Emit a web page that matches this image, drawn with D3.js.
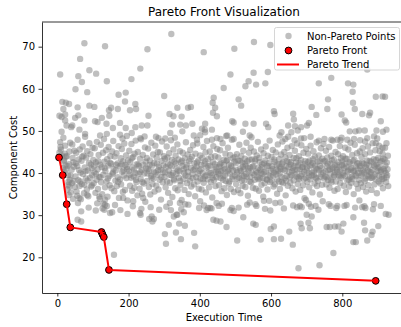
<!DOCTYPE html>
<html>
<head>
<meta charset="utf-8">
<script src="https://cdn.jsdelivr.net/npm/d3@7"></script>
<style>
html,body{margin:0;padding:0;background:#fff;}
svg{display:block;font-family:"DejaVu Sans",sans-serif;}
</style>
</head>
<body>
<svg id="chart" width="401" height="327"></svg>
<script>
// ---- Data ----
const xTicks = [0, 200, 400, 600, 800];
const yTicks = [20, 30, 40, 50, 60, 70];

const paretoFront = [
  [4.8,43.7],[15.2,39.5],[26.4,32.6],[36.5,27.1],[124,26.0],[127,25.4],[130.5,24.8],[145,17.0],[893.7,14.4]
];

const sparseHigh = [
[320,73.0],[76,70.8],[134,70.1],[253,69.4],[411,68.7],[64,67.1],[8,63.4],[90,64.4],[109,63.6],[59,63.0],[233,64.8],[69,61.6],[139,61.8],[208,62.3],[51,59.9],[84,59.2],[172,58.6],[192,59.1],[300,58.3],[190,57.0],[14,56.9],[24,56.7],[33,56.4],[17,55.2],[57,55.6],[90,56.0],[104,55.7],[170,55.2],[151,55.5],[145,54.9],[219,56.4],[204,54.9],[221,55.2],[439,57.9],[436,56.7],[443,55.5],[437,54.3],[448,53.5],[337,55.5],[367,55.5],[375,55.7],[315,54.0],[326,53.5],[349,53.4],[6,53.6],[12,53.3],[22,53.9],[50,53.1],[59,53.7],[125,53.1],[146,53.6],[256,53.6],[76,52.5],[106,52.3],[113,52.1],[22,52.5],[26,51.3],[42,51.3],[39,50.9],[138,51.7],[156,50.7],[176,51.9],[192,50.7],[219,50.9],[237,51.3],[253,51.3],[322,51.5],[345,51.5],[361,51.3],[379,51.7],[62,50.3],[78,49.3],[317,49.5],[351,49.9],[414,50.3],[434,50.3],
[120,48.9],[139,49.3],[176,49.1],[195,48.8],[209,49.5],[233,48.3],[284,48.3],[303,48.2],[392,47.9],[401,49.0],
[497,69.5],[552,71.1],[598,70.4],[486,63.4],[551,63.8],[591,64.0],[537,61.8],[528,60.6],[558,61.0],[584,61.3],[467,60.2],[734,61.3],[769,62.6],[816,61.3],[831,61.0],[870,64.6],
[829,59.3],[509,57.5],[516,56.0],[760,57.5],[758,55.2],[894,58.1],[913,58.2],[920,58.1],[830,56.7],[835,55.2],[608,54.7],[610,54.0],[662,54.1],[664,52.7],[714,55.7],[727,53.8],[798,53.9],[807,52.5],[811,52.0],[856,54.0],[878,54.3],[875,53.7],[908,52.3],[415,51.7],[491,52.3],[495,52.0],[528,51.7],[551,51.7],[586,51.7],[592,50.9],[648,51.3],[667,51.1],[684,50.9],[706,51.9],[701,51.3],[406,50.5],[415,49.7],[629,49.7],[657,49.7],[675,50.1],[821,49.9],[837,49.9],[847,50.1],[863,50.1],[896,50.1],[914,49.8],[924,50.3],[521,49.8],[540,48.9],[477,48.9],[434,47.9],[458,48.1],[495,48.1],
[624,48.9],[640,48.1],[666,47.8],[684,48.2],[693,48.3],[711,48.6],[734,47.7],[750,48.1],[769,47.9],[786,47.9],[795,47.8],[814,47.9],[889,48.7],[894,47.1],[903,46.5],[913,46.0],[924,47.1],[833,48.1],[850,47.8],[864,47.5],[870,48.3]
];

const sparseLow = [
[423,31.7],[453,32.2],[490,31.7],[495,31.0],[540,33.0],[556,32.6],[580,33.4],[598,31.1],[626,33.0],[673,31.9],[681,32.2],[706,32.7],[725,32.2],[767,32.2],[786,32.2],[806,32.2],[856,31.9],[865,31.7],[889,32.6],[908,32.2],[922,30.3],[930,30.1],
[438,28.9],[447,28.7],[458,28.5],[475,27.2],[522,29.5],[550,28.0],[557,27.7],[599,26.7],[608,27.3],[651,26.1],[683,28.0],[686,26.9],[700,30.1],[714,29.7],[705,28.2],[709,26.9],[756,27.2],[765,27.2],[779,27.3],[789,27.3],[798,26.1],[803,28.0],[831,29.5],[861,28.2],[864,26.4],[885,26.1],[882,25.3],[901,27.4],
[505,24.0],[571,24.2],[608,24.3],[628,24.4],[661,23.0],[831,23.6],[838,23.6],[870,24.0],[775,21.0],[677,17.4],[736,18.1],
[159,20.6],[148,30.5],[154,30.7],[197,30.3],[234,30.1],[319,31.2],[327,29.7],[337,30.1],[342,28.0],[355,30.7],[358,27.5],[313,27.7],[302,25.5],[333,25.9],[347,24.3],[384,25.8],[305,23.2],[387,22.6],[419,31.2],
[67,30.9],[108,31.1],[132,31.3],[67,28.5],[57,28.9],[258,29.1],[271,29.1],[267,28.5],[56,34.6],[62,34.1],[84,34.8],[129,32.7],[134,33.7],[118,34.4],[31,37.2],[34,36.8],
[134,32.5],[185,34.1],[213,33.3],[241,34.1],[232,30.5],[265,29.7],[316,32.9],[344,32.9],[368,32.5],[335,30.1],[401,33.3],[429,31.7],[447,32.9]
];

const bandLeft = [
[6,44.9],[8,47.3],[10,45.6],[12,49.8],[13,44.2],[16,41.2],[18,42.8],[20,40.3],[22,46.5],[24,43.9],[25,40.9],[27,44.0],[28,36.1],[30,39.5],[32,34.8],[33,42.1],[35,38.4],[36,47.2],[38,35.4],[40,40.8],[41,37.6],[43,43.6],[44,33.9],[46,38.1],[47,41.5],[48,45.3],[49,36.7],[17,48.4],[21,44.6],[29,41.7],[34,45.1],[42,46.8],[45,42.6],[31,37.9],
[51,39.2],[53,44.8],[54,35.6],[56,41.7],[57,47.9],[59,38.3],[60,43.2],[62,36.9],[63,45.6],[65,40.1],[66,33.8],[68,42.9],[69,37.4],[71,46.3],[72,39.8],[74,44.1],[75,35.2],[77,41.3],[78,48.6],[80,38.7],[81,43.7],[83,36.1],[84,45.2],[86,40.6],[87,34.5],[89,42.4],[90,47.1],[92,38.9],[93,44.5],[95,36.8],[96,41.1],[98,39.5],[99,46.0],[58,32.9],[88,31.8],[76,37.2],
[101,43.1],[102,37.6],[104,40.2],[105,45.9],[107,35.3],[108,42.5],[110,38.4],[111,47.4],[113,40.9],[114,36.2],[116,44.3],[117,39.1],[119,33.9],[120,42.0],[122,46.7],[123,37.8],[125,41.4],[126,35.0],[128,44.8],[129,39.6],[131,48.1],[132,42.7],[134,36.6],[135,40.5],[137,45.4],[138,38.0],[140,43.3],[141,34.4],[143,41.8],[144,46.2],[146,39.3],[147,37.1],[149,44.0],[112,32.8],[127,31.6],[139,32.2],
[151,42.2],[152,36.4],[154,45.1],[155,39.7],[157,47.6],[158,41.0],[160,35.7],[161,43.9],[163,38.2],[164,40.6],[166,44.7],[167,36.9],[169,42.3],[170,39.0],[172,46.4],[173,34.1],[175,41.6],[176,38.5],[178,43.5],[179,37.3],[181,45.7],[182,40.3],[184,35.5],[185,42.8],[187,39.4],[188,47.0],[190,36.0],[191,41.9],[193,44.2],[194,38.8],[196,40.9],[197,33.5],[199,43.0],[162,32.4],[183,48.2],[177,31.2],
[201,40.4],[202,45.3],[204,37.0],[205,42.6],[207,38.9],[208,46.9],[210,35.8],[211,41.3],[213,43.8],[214,39.2],[216,36.5],[217,44.6],[219,40.0],[220,47.7],[222,37.9],[223,42.1],[225,34.7],[226,45.0],[228,39.8],[229,41.7],[231,36.3],[232,43.4],[234,38.6],[235,48.0],[237,40.7],[238,35.1],[240,44.3],[241,42.0],[243,37.5],[244,39.9],[246,46.1],[247,33.2],[249,41.2],[212,32.1],[236,31.5],[245,48.7],
[251,43.6],[252,38.1],[254,41.0],[255,45.8],[257,36.7],[258,40.5],[260,43.0],[261,34.9],[263,39.3],[264,47.2],[266,41.8],[267,37.4],[269,44.4],[270,38.7],[272,42.4],[273,35.6],[275,46.5],[276,40.1],[278,37.0],[279,43.7],[281,39.6],[282,45.0],[284,36.1],[285,41.5],[287,38.4],[288,44.9],[290,40.8],[291,33.7],[293,42.9],[294,47.5],[296,37.8],[297,40.2],[299,44.0],[262,31.9],[286,31.3],[277,48.6]
];

const bandMid = [
[301,39.1],[302,43.4],[304,36.6],[305,41.4],[307,46.3],[308,38.0],[310,42.2],[311,35.3],[313,40.6],[314,44.7],[316,37.7],[317,41.9],[319,47.8],[320,39.5],[322,43.1],[323,34.3],[325,40.0],[326,45.6],[328,38.3],[329,42.7],[331,36.4],[332,44.1],[334,39.8],[335,41.1],[337,46.8],[338,35.9],[340,43.2],[341,38.9],[343,40.4],[344,45.2],[346,37.2],[347,42.5],[349,33.6],[306,32.0],[330,48.4],[348,31.4],
[351,41.7],[352,44.8],[354,38.6],[355,40.9],[357,36.0],[358,43.5],[360,39.4],[361,47.3],[363,42.0],[364,37.6],[366,44.4],[367,40.3],[369,35.0],[370,42.8],[372,38.2],[373,45.5],[375,41.2],[376,36.8],[378,43.9],[379,39.7],[381,46.6],[382,40.7],[384,37.3],[385,42.3],[387,34.5],[388,44.6],[390,39.0],[391,41.6],[393,47.0],[394,38.0],[396,43.0],[397,36.3],[399,40.5],[359,32.6],[383,48.9],[398,31.7],
[401,44.2],[402,38.7],[404,41.9],[405,36.1],[407,43.6],[408,40.0],[410,46.2],[411,37.7],[413,42.2],[414,39.2],[416,44.9],[417,35.4],[419,41.3],[420,47.6],[422,38.5],[423,43.3],[425,40.2],[426,36.6],[428,45.1],[429,41.8],[431,37.9],[432,43.8],[434,39.5],[435,34.2],[437,42.6],[438,46.4],[440,38.3],[441,40.8],[443,44.0],[444,36.9],[446,41.4],[447,39.0],[449,45.7],[412,32.3],[433,31.6],[448,48.3],
[451,40.1],[452,43.7],[454,37.1],[455,41.5],[457,45.4],[458,38.8],[460,42.4],[461,35.7],[463,40.7],[464,47.1],[466,39.3],[467,43.1],[469,36.4],[470,41.0],[472,44.6],[473,38.1],[475,42.9],[476,34.8],[478,40.4],[479,46.0],[481,37.5],[482,42.0],[484,39.9],[485,44.3],[487,36.2],[488,41.7],[490,47.9],[491,38.6],[493,43.5],[494,40.6],[496,35.5],[497,42.7],[499,39.4],[462,32.7],[486,31.2],[474,48.8],
[501,42.3],[502,37.4],[504,44.5],[505,40.2],[507,36.0],[508,43.0],[510,38.9],[511,46.7],[513,41.1],[514,35.2],[516,44.0],[517,39.6],[519,42.5],[520,37.0],[522,45.3],[523,40.9],[525,38.3],[526,43.4],[528,36.7],[529,41.8],[531,47.2],[532,39.1],[534,42.8],[535,34.6],[537,40.5],[538,44.8],[540,38.0],[541,41.3],[543,46.0],[544,37.8],[546,43.2],[547,40.0],[549,36.5],[509,31.8],[533,32.5],[545,48.5],
[551,41.6],[552,45.1],[554,38.4],[555,42.9],[557,36.3],[558,40.4],[560,44.2],[561,39.0],[563,47.4],[564,41.2],[566,35.8],[567,43.6],[569,38.7],[570,40.8],[572,45.6],[573,37.2],[575,42.1],[576,39.8],[578,34.4],[579,44.7],[581,40.3],[582,37.6],[584,43.0],[585,46.3],[587,38.5],[588,41.7],[590,36.1],[591,44.1],[593,39.4],[594,42.4],[596,47.7],[597,37.9],[599,40.6],[559,32.2],[583,31.5],[595,33.4]
];

const bandRight = [
[601,43.8],[602,38.2],[604,41.0],[605,45.5],[607,36.8],[608,40.1],[610,42.7],[611,37.3],[613,44.9],[614,39.7],[616,41.9],[617,35.1],[619,46.8],[620,40.5],[622,38.0],[623,43.3],[625,36.2],[626,41.4],[628,44.4],[629,39.1],[631,42.2],[632,47.5],[634,37.6],[635,40.9],[637,45.0],[638,38.8],[640,43.7],[641,34.7],[643,41.6],[644,39.3],[646,46.0],[647,37.0],[649,42.6],[612,32.9],[636,31.6],[648,48.6],
[651,40.2],[652,44.3],[654,37.7],[655,42.0],[657,39.5],[658,46.4],[660,36.4],[661,41.2],[663,43.6],[664,38.3],[666,40.7],[667,45.3],[669,35.6],[670,42.5],[672,39.2],[673,47.0],[675,37.4],[676,41.8],[678,44.0],[679,38.6],[681,40.9],[682,36.0],[684,43.1],[685,46.6],[687,39.8],[688,41.5],[690,37.1],[691,44.8],[693,40.3],[694,34.0],[696,42.8],[697,38.9],[699,45.7],[662,32.3],[686,31.9],[698,33.6],
[701,41.3],[702,37.9],[704,44.6],[705,40.0],[707,36.6],[708,43.0],[710,38.5],[711,46.5],[713,41.9],[714,39.4],[716,35.4],[717,42.4],[719,45.2],[720,40.4],[722,37.5],[723,43.9],[725,39.0],[726,41.1],[728,47.3],[729,36.9],[731,42.7],[732,38.1],[734,44.2],[735,40.6],[737,34.9],[738,41.7],[740,45.9],[741,39.7],[743,37.2],[744,43.4],[746,40.1],[747,46.9],[749,38.7],[712,32.0],[733,31.3],[745,33.3],
[751,42.9],[752,39.2],[754,45.3],[755,37.3],[757,41.6],[758,43.7],[760,38.4],[761,40.7],[763,46.2],[764,36.5],[766,42.3],[767,39.8],[769,44.1],[770,37.8],[772,41.0],[773,47.7],[775,39.1],[776,43.2],[778,35.8],[779,40.2],[781,45.0],[782,38.0],[784,42.0],[785,40.8],[787,36.2],[788,44.5],[790,39.5],[791,41.4],[793,46.4],[794,37.6],[796,43.5],[797,38.9],[799,41.9],[762,32.6],[783,31.7],[798,48.4],
[801,40.0],[802,44.0],[804,37.0],[805,42.1],[807,39.3],[808,46.0],[810,35.5],[811,41.5],[813,43.4],[814,38.2],[816,40.6],[817,45.6],[819,36.8],[820,42.6],[822,39.0],[823,47.2],[825,37.7],[826,41.2],[828,44.3],[829,38.6],[831,40.4],[832,35.0],[834,43.1],[835,46.7],[837,39.6],[838,41.7],[840,37.4],[841,44.7],[843,40.9],[844,36.3],[846,42.4],[847,38.4],[849,45.1],[812,32.4],[836,31.8],[848,33.5],
[851,41.1],[852,37.6],[854,43.8],[855,39.9],[857,45.9],[858,36.7],[860,42.2],[861,40.1],[863,38.1],[864,44.5],[866,41.3],[867,35.6],[869,43.0],[870,39.4],[872,46.3],[873,37.1],[875,41.8],[876,40.3],[878,44.9],[879,38.8],[881,42.7],[882,36.0],[884,40.7],[885,47.1],[887,39.2],[888,43.3],[890,37.3],[891,41.6],[893,45.4],[894,38.5],[896,42.0],[897,35.2],[899,40.5],[862,32.1],[886,31.4],[898,48.2],
[901,43.6],[902,38.0],[904,41.4],[905,45.2],[907,37.5],[908,40.3],[910,42.9],[911,39.1],[913,44.6],[914,36.4],[916,41.0],[917,38.7],[919,43.2],[920,46.0],[922,40.0],[923,37.8],[925,42.5],[926,39.5],[928,44.1],[929,36.9]
];

const bandCore = [
[9,46.2],[19,43.1],[23,41.8],[37,39.4],[52,42.3],[61,40.7],[64,38.0],[70,43.9],[79,40.4],[85,38.2],[94,42.0],[97,37.1],[103,41.7],[109,39.8],[115,42.8],[121,39.0],[133,41.2],[142,38.7],[148,42.4],[156,40.1],[165,41.9],[171,37.9],[180,42.1],[186,40.6],[195,41.5],[203,39.6],[209,43.5],[215,40.8],[221,38.4],[227,42.0],[233,40.2],[239,37.8],[248,42.7],[253,39.9],[259,41.9],[265,38.9],[271,40.3],[280,42.2],[283,40.7],[292,39.0],[298,41.8],
[303,40.1],[309,43.7],[315,39.6],[321,41.6],[327,38.6],[333,42.3],[339,40.6],[345,38.1],[350,42.9],[356,40.0],[362,41.3],[368,39.2],[374,43.3],[380,38.8],[386,41.0],[392,42.5],[395,39.9],[403,40.9],[409,38.6],[415,42.8],[418,39.4],[424,41.6],[430,40.0],[436,38.9],[442,42.1],[445,40.3],[453,39.7],[456,42.1],[459,40.5],[465,38.4],[468,41.9],[471,39.5],[477,43.1],[480,40.8],[483,38.0],[489,41.3],[492,39.2],[498,43.8],
[503,40.7],[506,38.7],[512,42.9],[515,40.5],[518,38.2],[521,41.5],[524,39.3],[527,42.2],[530,39.8],[536,41.1],[539,43.2],[542,39.1],[548,41.5],[553,39.6],[556,43.3],[562,40.1],[565,38.5],[568,42.6],[571,40.0],[574,41.4],[577,38.9],[580,42.3],[586,40.3],[589,38.4],[592,41.7],[598,39.2],
[603,41.6],[606,39.5],[609,43.2],[615,40.8],[618,38.5],[621,42.1],[624,39.9],[627,41.0],[630,37.9],[633,42.5],[639,40.6],[642,38.2],[645,42.9],[650,41.4],[653,39.0],[656,42.6],[659,40.4],[665,41.6],[668,39.7],[671,43.5],[674,40.8],[677,38.9],[680,42.4],[683,39.3],[689,41.3],[692,38.6],[695,42.1],
[700,40.6],[703,42.6],[706,39.2],[709,41.6],[715,40.1],[718,43.3],[721,39.6],[724,41.8],[727,38.8],[730,40.9],[736,42.9],[739,39.1],[742,41.2],[748,42.7],[753,40.4],[756,39.0],[759,42.2],[765,40.9],[768,38.3],[771,43.0],[774,41.3],[777,39.5],[780,41.8],[786,40.2],[789,42.6],[792,39.2],[795,40.8],
[800,42.7],[803,39.6],[806,41.2],[809,43.4],[815,40.3],[818,38.4],[821,42.2],[824,40.8],[827,39.1],[830,42.9],[833,40.5],[839,39.3],[842,42.3],[845,40.0],[850,41.7],[853,39.4],[856,42.4],[859,40.7],[865,38.7],[868,42.0],[871,40.6],[874,39.2],[877,42.9],[880,40.2],[883,38.9],[889,41.9],[892,39.7],[895,43.1],
[900,41.2],[903,39.4],[906,42.6],[909,40.7],[912,38.6],[915,43.4],[918,40.5],[921,41.8],[924,39.0],[927,40.9]
];

const nonPareto = [].concat(sparseHigh, sparseLow, bandLeft, bandMid, bandRight, bandCore);

// ---- Chart ----
const svg = d3.select("#chart");
svg.append("rect").attr("width", 401).attr("height", 327).attr("fill", "#fff");

const x = d3.scaleLinear().domain([-43, 976]).range([42, 405]);
const y = d3.scaleLinear().domain([11.52, 75.86]).range([293, 22]);

// Points
svg.append("g").selectAll("circle").data(nonPareto).join("circle")
  .attr("cx", d => x(d[0])).attr("cy", d => y(d[1])).attr("r", 3.2)
  .attr("fill", "#808080").attr("fill-opacity", 0.5);

svg.append("g").selectAll("circle").data(paretoFront).join("circle")
  .attr("cx", d => x(d[0])).attr("cy", d => y(d[1])).attr("r", 3.4)
  .attr("fill", "#ff0000").attr("stroke", "#000").attr("stroke-width", 1);

svg.append("path").datum(paretoFront)
  .attr("d", d3.line().x(d => x(d[0])).y(d => y(d[1])))
  .attr("fill", "none").attr("stroke", "#ff0000").attr("stroke-width", 2)
  .attr("stroke-linejoin", "round");

// Axes
const xAxis = svg.append("g").attr("transform", "translate(0,293)")
  .call(d3.axisBottom(x).tickValues(xTicks).tickSizeInner(3.5).tickSizeOuter(0).tickPadding(3.5));
const yAxis = svg.append("g").attr("transform", "translate(42,0)")
  .call(d3.axisLeft(y).tickValues(yTicks).tickSizeInner(3.5).tickSizeOuter(0).tickPadding(3.5));
[xAxis, yAxis].forEach(g => {
  g.selectAll("text").attr("font-size", 10).attr("fill", "#000").attr("font-family", "DejaVu Sans");
  g.selectAll("line").attr("stroke", "#000").attr("stroke-width", 0.8);
  g.select(".domain").attr("stroke", "#000").attr("stroke-width", 0.8);
});
// top & right spines
svg.append("line").attr("x1", 42).attr("x2", 405).attr("y1", 22).attr("y2", 22)
  .attr("stroke", "#000").attr("stroke-width", 0.8);
svg.append("line").attr("x1", 405).attr("x2", 405).attr("y1", 22).attr("y2", 293)
  .attr("stroke", "#000").attr("stroke-width", 0.8);

// Labels
svg.append("text").attr("x", 224).attr("y", 16).attr("text-anchor", "middle")
  .attr("font-size", 12).attr("fill", "#000").text("Pareto Front Visualization");
svg.append("text").attr("x", 224).attr("y", 321).attr("text-anchor", "middle")
  .attr("font-size", 10).attr("fill", "#000").text("Execution Time");
svg.append("text").attr("transform", "translate(16.5,157.5) rotate(-90)").attr("text-anchor", "middle")
  .attr("font-size", 10).attr("fill", "#000").text("Component Cost");

// Legend
const lg = svg.append("g");
lg.append("rect").attr("x", 274.5).attr("y", 27.5).attr("width", 125).attr("height", 42.5).attr("rx", 2)
  .attr("fill", "#fff").attr("fill-opacity", 0.8).attr("stroke", "#cccccc").attr("stroke-width", 0.8);
lg.append("circle").attr("cx", 288.5).attr("cy", 36).attr("r", 3.2).attr("fill", "#808080").attr("fill-opacity", 0.5);
lg.append("circle").attr("cx", 288.5).attr("cy", 50.5).attr("r", 3.4).attr("fill", "#ff0000").attr("stroke", "#000").attr("stroke-width", 1);
lg.append("line").attr("x1", 277).attr("x2", 299).attr("y1", 64.5).attr("y2", 64.5).attr("stroke", "#ff0000").attr("stroke-width", 2);
const labels = ["Non-Pareto Points", "Pareto Front", "Pareto Trend"];
lg.selectAll("text.lab").data(labels).join("text").attr("class", "lab")
  .attr("x", 307).attr("y", (d, i) => 36 + i * 14.3).attr("dy", "0.35em")
  .attr("font-size", 10).attr("fill", "#000").text(d => d);
</script>
</body>
</html>
